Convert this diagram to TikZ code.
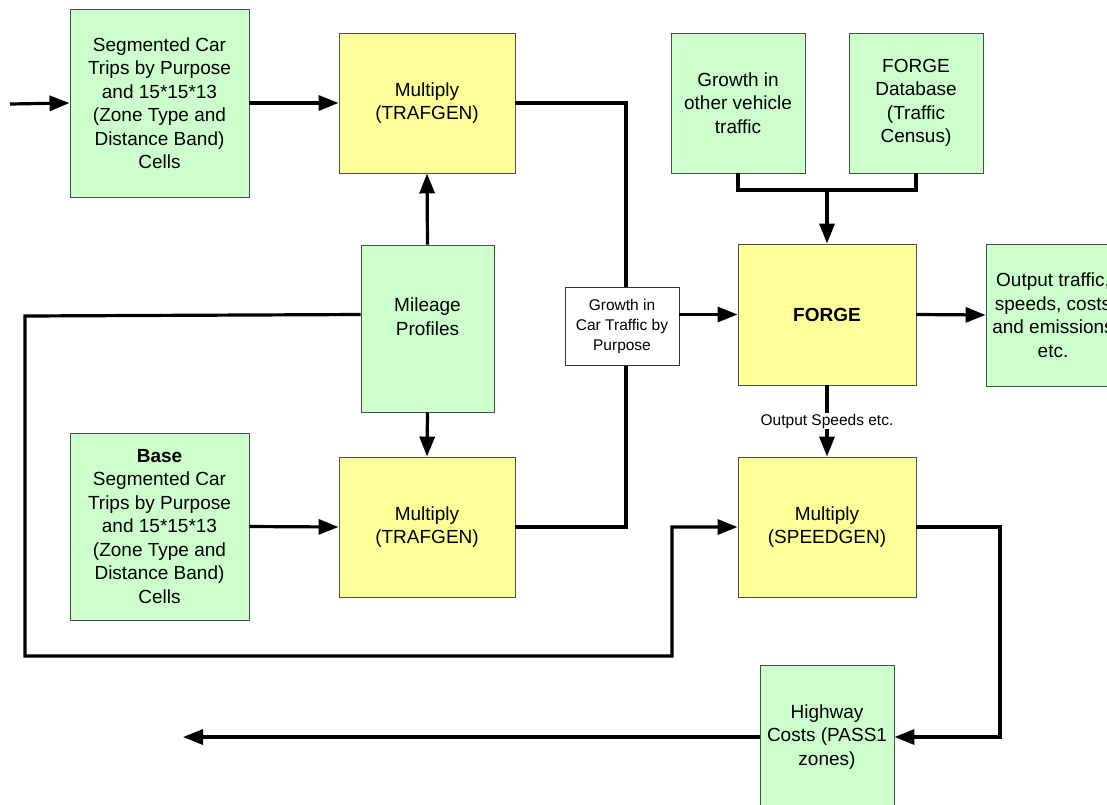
\documentclass[tikz,border=0pt]{standalone}
\usepackage{fontspec}
\setmainfont{Liberation Sans}
\usetikzlibrary{arrows.meta}
\definecolor{boxgreen}{HTML}{CCFFCC}
\definecolor{boxyellow}{HTML}{FFFF99}
\tikzset{
  box/.style={draw=black!70, line width=0.9pt, inner sep=2pt, align=center,
    font=\fontsize{19}{23.5}\selectfont},
  gbox/.style={box, fill=boxgreen},
  ybox/.style={box, fill=boxyellow},
  wbox/.style={draw=black!80, line width=0.9pt, fill=white, inner sep=2pt, align=center,
    font=\fontsize{15.5}{20}\selectfont},
  wire/.style={line width=3.2pt, line join=miter},
  arr/.style={wire, -{Triangle[length=20pt,width=15pt]}},
  lbl/.style={fill=white, inner sep=1pt, font=\fontsize{15.5}{18}\selectfont}
}
\begin{document}
\begin{tikzpicture}[x=1pt,y=-1pt]
\useasboundingbox (0,0) rectangle (1107,804);
\clip (0,0) rectangle (1107,804);
% nodes
\node[gbox, minimum width=179pt, minimum height=188pt] (A) at (159.5,103)
  {Segmented Car\\Trips by Purpose\\and 15*15*13\\(Zone Type and\\Distance Band)\\Cells};
\node[ybox, minimum width=176pt, minimum height=140pt] (M1) at (427,103)
  {Multiply\\(TRAFGEN)};
\node[gbox, minimum width=133pt, minimum height=167pt] (MP) at (427.5,328.5)
  {Mileage\\Profiles\\\mbox{}};
\node[gbox, minimum width=179pt, minimum height=187pt] (B) at (159.5,526.5)
  {\textbf{Base}\\Segmented Car\\Trips by Purpose\\and 15*15*13\\(Zone Type and\\Distance Band)\\Cells};
\node[ybox, minimum width=176pt, minimum height=140pt] (M2) at (427,527)
  {Multiply\\(TRAFGEN)};
\node[ybox, minimum width=178pt, minimum height=141pt] (F) at (827,314.5)
  {\textbf{FORGE}};
\node[gbox, minimum width=134pt, minimum height=140pt] (GO) at (738,103)
  {Growth in\\other vehicle\\traffic};
\node[gbox, minimum width=134pt, minimum height=140pt] (FD) at (916,103)
  {FORGE\\Database\\(Traffic\\Census)};
\node[gbox, minimum width=134pt, minimum height=142pt] (OUT) at (1053,315)
  {Output traffic,\\speeds, costs\\and emissions\\etc.};
\node[ybox, minimum width=178pt, minimum height=140pt] (SP) at (827,527)
  {Multiply\\(SPEEDGEN)};
\node[gbox, minimum width=134pt, minimum height=144pt] (HW) at (827,737)
  {Highway\\Costs (PASS1\\zones)};
% coordinates
\coordinate (in) at (10,104);
\coordinate (j) at (827,190);
\coordinate (v1) at (626,103);
\coordinate (v2) at (626,527);
\coordinate (l1) at (25,316);
\coordinate (l2) at (25,656);
\coordinate (l3) at (672,656);
\coordinate (r1) at (1000,527);
\coordinate (outend) at (183,737);
% connectors
\draw[arr] (in) -- (A.west);
\draw[arr] (A.east) -- (M1.west);
\draw[arr] (MP.north) -- (M1.south);
\draw[arr] (MP.south) -- (M2.north);
\draw[arr] (B.east) -- (M2.west);
\draw[wire] (M1.east) -- (v1) -- (v2) -- (M2.east);
\draw[arr] ([yshift=14pt]MP.west) -- (l1) -- (l2) -- (l3) |- (SP.west);
\draw[wire] (GO.south) |- (j) -| (FD.south);
\draw[arr] (j) -- (F.north);
\draw[arr] (F.east) -- (OUT.west);
\draw[arr] (F.south) -- node[lbl] {Output Speeds etc.} (SP.north);
\draw[arr] (SP.east) -- (r1) |- (HW.east);
\draw[arr] (HW.west) -- (outend);
% growth node on top of vertical line
\node[wbox, minimum width=114pt, minimum height=78pt] (G) at (622,326)
  {Growth in\\Car Traffic by\\Purpose};
\draw[arr] (G.east |- F.west) -- (F.west);
\end{tikzpicture}
\end{document}
